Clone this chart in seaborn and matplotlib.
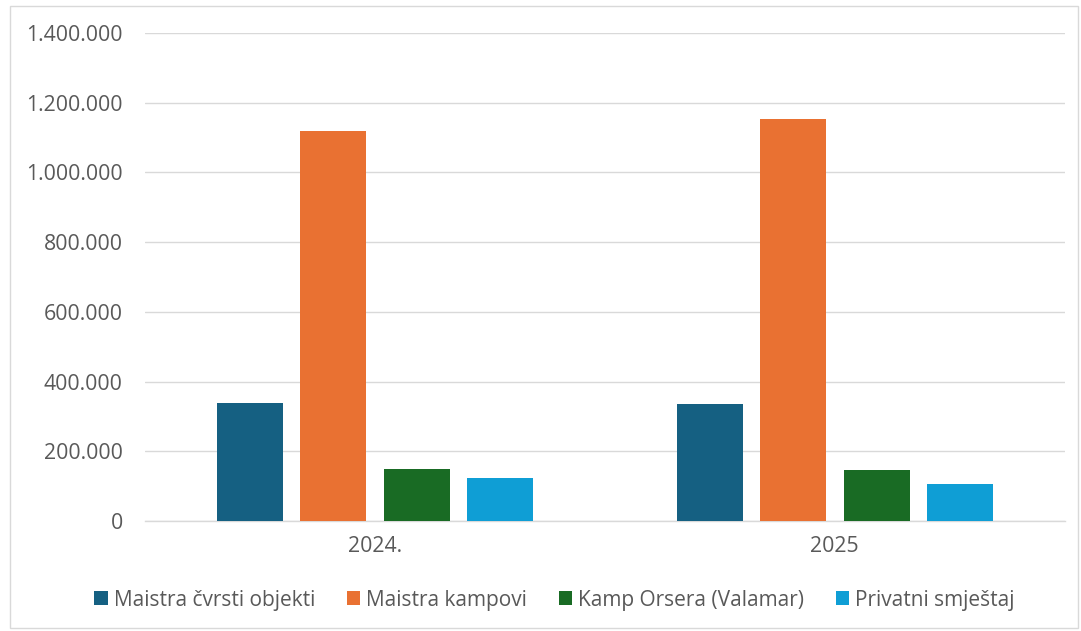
import pandas as pd
import numpy as np
import matplotlib.pyplot as plt
import seaborn as sns
from matplotlib.ticker import FuncFormatter
from matplotlib.patches import Rectangle

# --- DATA ---
years = ['2024.', '2025']
series = ['Maistra čvrsti objekti', 'Maistra kampovi', 'Kamp Orsera (Valamar)', 'Privatni smještaj']
values_2024 = [339000, 1120000, 148000, 122500]
values_2025 = [335000, 1153000, 145500, 107000]
colors = ['#156082', '#E97132', '#196B24', '#0F9ED5']

rows = []
for s, v in zip(series, values_2024):
    rows.append({'godina': years[0], 'serija': s, 'vrijednost': v})
for s, v in zip(series, values_2025):
    rows.append({'godina': years[1], 'serija': s, 'vrijednost': v})
df = pd.DataFrame(rows)

sns.set_theme(style='white')
plt.rcParams['font.family'] = ['Open Sans', 'DejaVu Sans']

fig = plt.figure(figsize=(10.81, 6.31), dpi=100)
ax = fig.add_axes([0.134, 0.1743, 0.851, 0.7734])

sns.barplot(data=df, x='godina', y='vrijednost', hue='serija', hue_order=series,
            palette=colors, saturation=1, width=0.726, gap=0.21, ax=ax, zorder=3,
            linewidth=0, legend=True)

ax.set_ylim(0, 1400000)
ax.set_yticks(np.arange(0, 1400001, 200000))
ax.yaxis.set_major_formatter(FuncFormatter(lambda v, p: f'{int(v):,}'.replace(',', '.')))
ax.grid(axis='y', color='#d9d9d9', linewidth=1, zorder=0)
ax.set_xlabel('')
ax.set_ylabel('')
for sp in ['left', 'right', 'top']:
    ax.spines[sp].set_visible(False)
ax.spines['bottom'].set_color('#d9d9d9')
ax.spines['bottom'].set_linewidth(1)
ax.tick_params(axis='both', length=0, colors='#595959', labelsize=15.3)
ax.tick_params(axis='y', pad=16)
ax.tick_params(axis='x', pad=11)

handles, labels = ax.get_legend_handles_labels()
ax.get_legend().remove()
leg = fig.legend(handles, labels, loc='center', bbox_to_anchor=(0.513, 0.049), ncol=4,
                 frameon=False, fontsize=15, handlelength=0.65, handleheight=0.65,
                 handletextpad=0.3, columnspacing=1.5)
for t in leg.get_texts():
    t.set_color('#595959')

# outer chart border
fig.patches.append(Rectangle((10 / 1081, 3 / 631), 1068 / 1081, 622 / 631,
                             transform=fig.transFigure, fill=False,
                             edgecolor='#d9d9d9', linewidth=1))

plt.savefig('out.png', dpi=100)
